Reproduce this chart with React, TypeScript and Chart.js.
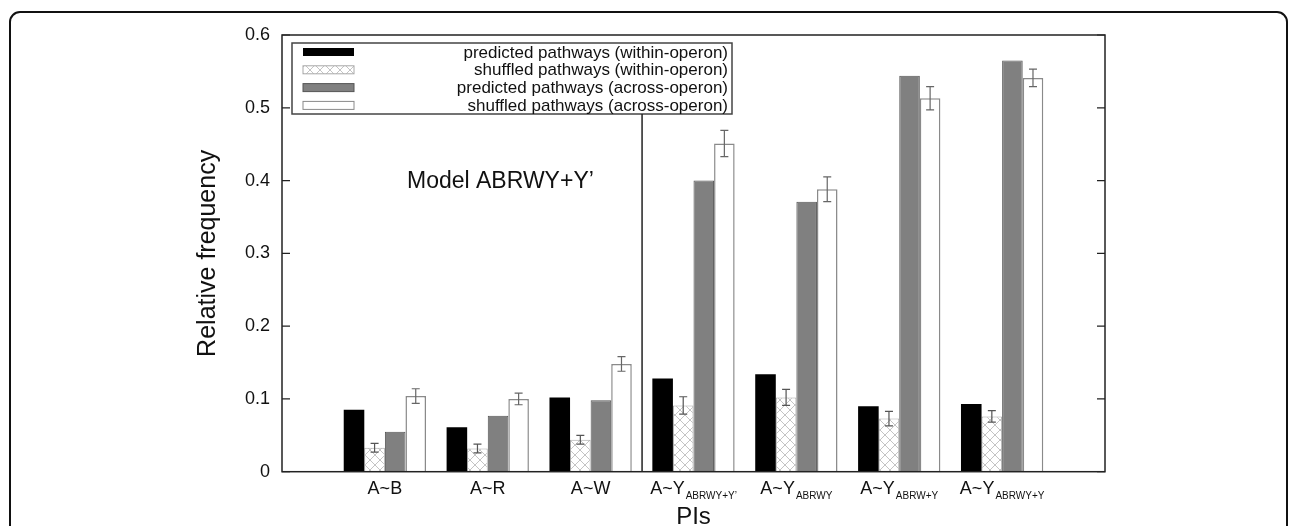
import React, { useEffect, useRef } from "react";
import { Chart, registerables } from "chart.js";

Chart.register(...registerables);

const categories = ["A~B", "A~R", "A~W", "A~Y", "A~Y", "A~Y", "A~Y"];
const categorySubscripts = ["", "", "", "ABRWY+Y’", "ABRWY", "ABRW+Y", "ABRWY+Y"];

const seriesLabels = [
  "predicted pathways (within-operon)",
  "shuffled pathways (within-operon)",
  "predicted pathways (across-operon)",
  "shuffled pathways (across-operon)",
];

const withinPredicted = [0.085, 0.061, 0.102, 0.128, 0.134, 0.09, 0.093];
const withinShuffled = [0.033, 0.032, 0.044, 0.091, 0.102, 0.073, 0.076];
const withinShuffledErr = [0.006, 0.006, 0.006, 0.012, 0.011, 0.01, 0.008];
const acrossPredicted = [0.055, 0.077, 0.098, 0.4, 0.371, 0.544, 0.565];
const acrossShuffled = [0.104, 0.1, 0.148, 0.451, 0.388, 0.513, 0.541];
const acrossShuffledErr = [0.01, 0.008, 0.01, 0.018, 0.017, 0.016, 0.012];

const yTickLabels = ["0", "0.1", "0.2", "0.3", "0.4", "0.5", "0.6"];
const xAxisTitle = "PIs";
const yAxisTitle = "Relative frequency";
const modelNote = "Model ABRWY+Y’";

const FONT = "'Liberation Sans', Arial, Helvetica, sans-serif";

function makeHatch(): CanvasPattern | string {
  const tile = document.createElement("canvas");
  tile.width = 10;
  tile.height = 10;
  const t = tile.getContext("2d");
  if (!t) return "#ddd";
  t.fillStyle = "#ffffff";
  t.fillRect(0, 0, 10, 10);
  t.strokeStyle = "#c4c4c4";
  t.lineWidth = 1;
  t.beginPath();
  t.moveTo(0, 0);
  t.lineTo(10, 10);
  t.moveTo(10, 0);
  t.lineTo(0, 10);
  t.stroke();
  const p = t.createPattern(tile, "repeat");
  return p || "#ddd";
}

export default function App() {
  const ref = useRef<HTMLCanvasElement | null>(null);

  useEffect(() => {
    const canvas = ref.current;
    if (!canvas) return;
    Chart.defaults.font.family = FONT;
    Chart.defaults.color = "#111";
    const hatch = makeHatch();

    const pad = (arr: number[]) => [null, ...arr, null];
    const allLabels = ["", ...categories, ""];

    const styles = [
      { bg: "#000000", border: "#000000", bw: 0 },
      { bg: hatch, border: "#a8a8a8", bw: 1 },
      { bg: "#808080", border: "#555555", bw: 1 },
      { bg: "#ffffff", border: "#8a8a8a", bw: 1.5 },
    ];
    const seriesValues = [withinPredicted, withinShuffled, acrossPredicted, acrossShuffled];
    const seriesErrs: (number[] | null)[] = [null, withinShuffledErr, null, acrossShuffledErr];
    const errColors = ["", "#555", "", "#666"];

    const overlay = {
      id: "overlay",
      beforeDraw(chart: any) {
        const ctx = chart.ctx;
        ctx.save();
        ctx.fillStyle = "#fff";
        ctx.fillRect(0, 0, chart.width, chart.height);
        ctx.strokeStyle = "#111";
        ctx.lineWidth = 2;
        ctx.beginPath();
        ctx.roundRect(10, 12, chart.width - 13, chart.height + 40, 10);
        ctx.stroke();
        ctx.restore();
      },
      afterDatasetsDraw(chart: any) {
        const ctx = chart.ctx;
        const ys = chart.scales.y;
        ctx.save();
        seriesErrs.forEach((errs, di) => {
          if (!errs) return;
          const meta = chart.getDatasetMeta(di);
          ctx.strokeStyle = errColors[di];
          ctx.lineWidth = 1.2;
          errs.forEach((e, j) => {
            const el = meta.data[j + 1];
            if (!el) return;
            const v = seriesValues[di][j];
            const x = el.x;
            const yh = ys.getPixelForValue(v + e);
            const yl = ys.getPixelForValue(v - e);
            ctx.beginPath();
            ctx.moveTo(x, yh);
            ctx.lineTo(x, yl);
            ctx.moveTo(x - 4, yh);
            ctx.lineTo(x + 4, yh);
            ctx.moveTo(x - 4, yl);
            ctx.lineTo(x + 4, yl);
            ctx.stroke();
          });
        });
        ctx.restore();
      },
      afterDraw(chart: any) {
        const ctx = chart.ctx;
        const a = chart.chartArea;
        const xs = chart.scales.x;
        const ys = chart.scales.y;
        ctx.save();
        // plot frame
        ctx.strokeStyle = "#222";
        ctx.lineWidth = 1.5;
        ctx.strokeRect(a.left, a.top, a.right - a.left, a.bottom - a.top);
        // inward tick marks (mirrored)
        ctx.lineWidth = 1.2;
        yTickLabels.forEach((t) => {
          const y = ys.getPixelForValue(parseFloat(t));
          ctx.beginPath();
          ctx.moveTo(a.left, y);
          ctx.lineTo(a.left + 8, y);
          ctx.moveTo(a.right, y);
          ctx.lineTo(a.right - 8, y);
          ctx.stroke();
        });
        // category labels with subscripts
        ctx.fillStyle = "#111";
        ctx.textBaseline = "middle";
        ctx.textAlign = "left";
        categories.forEach((c, i) => {
          const x = xs.getPixelForValue(i + 1);
          ctx.font = `18px ${FONT}`;
          const wm = ctx.measureText(c).width;
          ctx.font = `10px ${FONT}`;
          const sub = categorySubscripts[i];
          const wsub = sub ? ctx.measureText(sub).width + 1 : 0;
          const start = x - (wm + wsub) / 2;
          ctx.font = `18px ${FONT}`;
          ctx.fillText(c, start, a.bottom + 17);
          if (sub) {
            ctx.font = `10px ${FONT}`;
            ctx.fillText(sub, start + wm + 1, a.bottom + 25);
          }
        });
        // x axis title
        ctx.textAlign = "center";
        ctx.font = `24px ${FONT}`;
        ctx.fillText(xAxisTitle, (a.left + a.right) / 2, a.bottom + 46);
        // legend
        const lx = a.left + 10;
        const ly = a.top + 8;
        const lw = 440;
        const lh = 71;
        ctx.fillStyle = "#fff";
        ctx.fillRect(lx, ly, lw, lh);
        ctx.strokeStyle = "#444";
        ctx.lineWidth = 1.5;
        ctx.strokeRect(lx, ly, lw, lh);
        seriesLabels.forEach((lab, i) => {
          const cy = ly + 9 + i * 17.8;
          const s = styles[i];
          ctx.fillStyle = s.bg as any;
          ctx.fillRect(lx + 11, cy - 4, 51, 8);
          if (s.bw > 0) {
            ctx.strokeStyle = s.border;
            ctx.lineWidth = 1;
            ctx.strokeRect(lx + 11, cy - 4, 51, 8);
          }
          ctx.fillStyle = "#111";
          ctx.font = `17px ${FONT}`;
          ctx.textAlign = "right";
          ctx.textBaseline = "middle";
          ctx.fillText(lab, lx + lw - 4, cy + 1);
        });
        // separator line between model groups
        const sx = (xs.getPixelForValue(3) + xs.getPixelForValue(4)) / 2;
        ctx.strokeStyle = "#222";
        ctx.lineWidth = 1.5;
        ctx.beginPath();
        ctx.moveTo(sx, ly + lh);
        ctx.lineTo(sx, a.bottom);
        ctx.stroke();
        // model note
        ctx.fillStyle = "#111";
        ctx.font = `23px ${FONT}`;
        ctx.textAlign = "left";
        ctx.textBaseline = "middle";
        ctx.fillText(modelNote, a.left + 125, ys.getPixelForValue(0.4) + 1);
        ctx.restore();
      },
    };

    const chart = new Chart(canvas, {
      type: "bar",
      data: {
        labels: allLabels,
        datasets: seriesLabels.map((lab, i) => ({
          label: lab,
          data: pad(seriesValues[i]) as any,
          backgroundColor: styles[i].bg as any,
          borderColor: styles[i].border,
          borderWidth: styles[i].bw,
          barPercentage: 1,
          categoryPercentage: 0.8,
        })),
      },
      options: {
        responsive: false,
        animation: false,
        events: [],
        layout: { padding: { left: 189, right: 185, top: 35, bottom: 0 } },
        plugins: {
          legend: { display: false },
          tooltip: { enabled: false },
        },
        scales: {
          x: {
            type: "category",
            offset: false,
            grid: { display: false, drawTicks: false },
            border: { display: false },
            ticks: { display: false },
            afterFit: (s: any) => {
              s.height = 54.3;
            },
          },
          y: {
            min: 0,
            max: 0.6,
            grid: { display: false, drawTicks: false },
            border: { display: false },
            ticks: {
              stepSize: 0.1,
              padding: 12,
              color: "#111",
              font: { size: 18, family: FONT },
              callback: (_v: any, idx: number) => yTickLabels[idx],
            },
            title: {
              display: true,
              text: yAxisTitle,
              color: "#111",
              font: { size: 25, family: FONT },
              padding: { top: 4, bottom: 4 },
            },
            afterFit: (s: any) => {
              s.width = 93;
            },
          },
        },
      },
      plugins: [overlay],
    });

    return () => chart.destroy();
  }, []);

  return (
    <div style={{ position: "fixed", left: 0, top: 0, width: 1290, height: 526, background: "#fff" }}>
      <canvas ref={ref} width={1290} height={526} style={{ display: "block", width: 1290, height: 526 }} />
    </div>
  );
}
